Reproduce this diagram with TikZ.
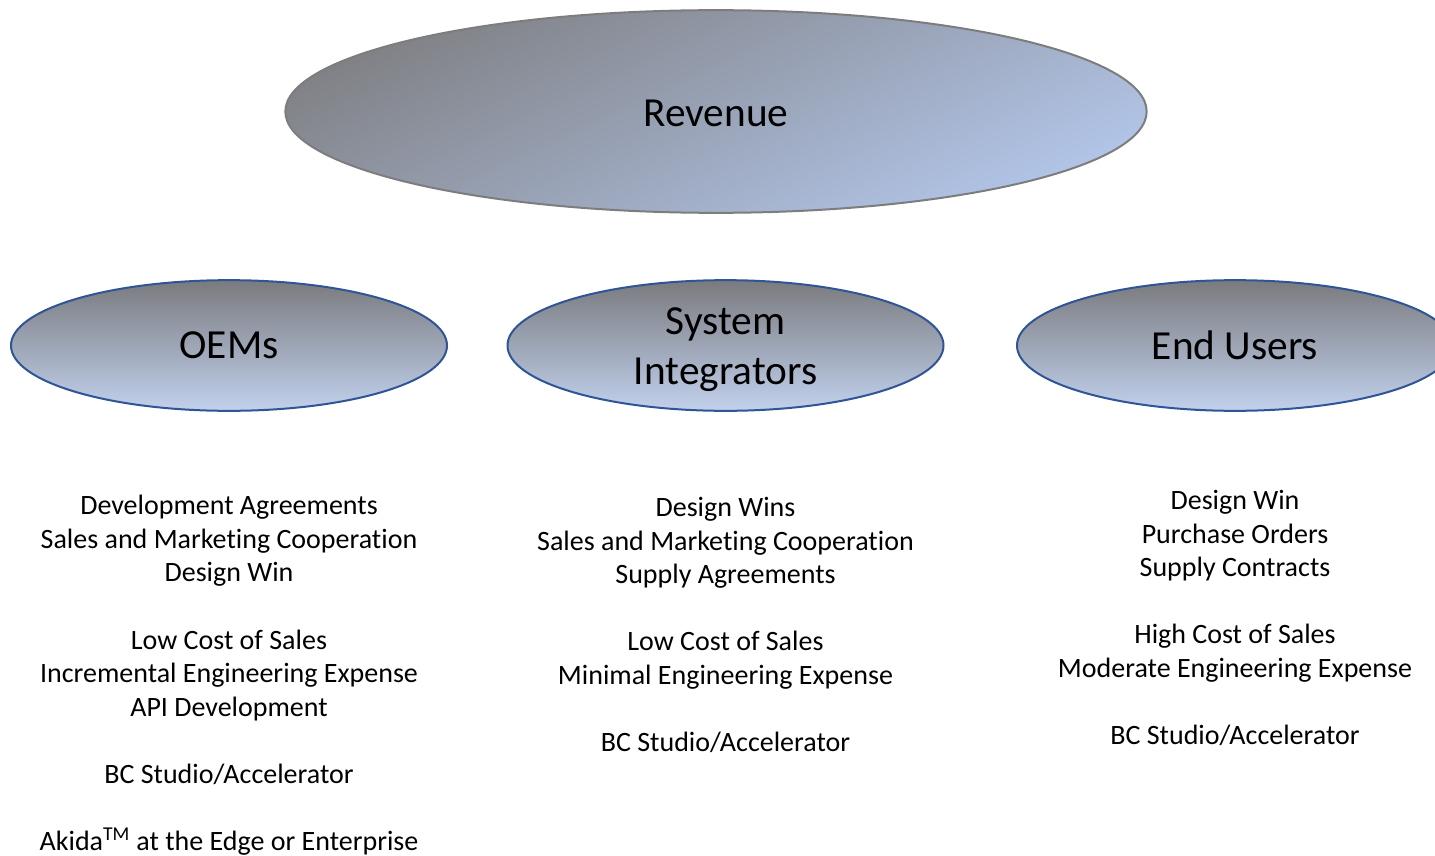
\documentclass[tikz,border=0pt]{standalone}
\usepackage{fontspec}
\setmainfont{Carlito}[Ligatures={NoCommon,NoContextual}]
\usetikzlibrary{shapes.geometric}
\definecolor{colortop}{RGB}{128,129,133}
\definecolor{colorbottom}{RGB}{178,197,232}
\definecolor{colorrim}{RGB}{47,85,151}
\definecolor{colorrevrim}{RGB}{125,125,125}
\newcommand{\lift}[1]{\rule{0pt}{#1}}
\tikzstyle{every node}=[inner sep=0pt]
\tikzstyle{revenue}=[ellipse, draw=colorrevrim, line width=1.5pt, minimum width=646pt, minimum height=152pt, top color=colortop, bottom color=colorbottom, shading angle=25, font=\fontsize{31}{37.5}\selectfont]
\tikzstyle{market}=[ellipse, draw=colorrim, line width=1.5pt, minimum width=327pt, minimum height=98pt, top color=colortop!95!black, bottom color=colorbottom!80!white, align=center, font=\fontsize{31}{37.5}\selectfont]
\tikzstyle{notes}=[anchor=north, align=center, font=\fontsize{21}{25.2}\selectfont]

\begin{document}
\begin{tikzpicture}[x=0.75pt, y=-0.75pt]
		\useasboundingbox (0,0) rectangle (1435,856);
		\clip (0,0) rectangle (1435,856);
		
		\node[revenue] at (716, 111.5) (rev) {\lift{23pt}Revenue};
		
		\node[market] at (229, 345.5) (oem) {OEMs};
		\node[market] at (725.5, 345.5) (sint) {\lift{26pt}System\\Integrators};
		\node[market] at (1235, 345.5) (endu) {End Users};
		
		\node[notes] at (229, 495) (oemtxt) {Development Agreements\\Sales and Marketing Cooperation\\Design Win\\[25.2pt]Low Cost of Sales\\Incremental Engineering Expense\\API Development\\[25.2pt]BC Studio/Accelerator\\[25.2pt]Akida\textsuperscript{TM} at the Edge or Enterprise};
		\node[notes] at (725.5, 497) (sinttxt) {Design Wins\\Sales and Marketing Cooperation\\Supply Agreements\\[25.2pt]Low Cost of Sales\\Minimal Engineering Expense\\[25.2pt]BC Studio/Accelerator};
		\node[notes] at (1235, 490) (endutxt) {Design Win\\Purchase Orders\\Supply Contracts\\[25.2pt]High Cost of Sales\\Moderate Engineering Expense\\[25.2pt]BC Studio/Accelerator};
		
\end{tikzpicture}
\end{document}
